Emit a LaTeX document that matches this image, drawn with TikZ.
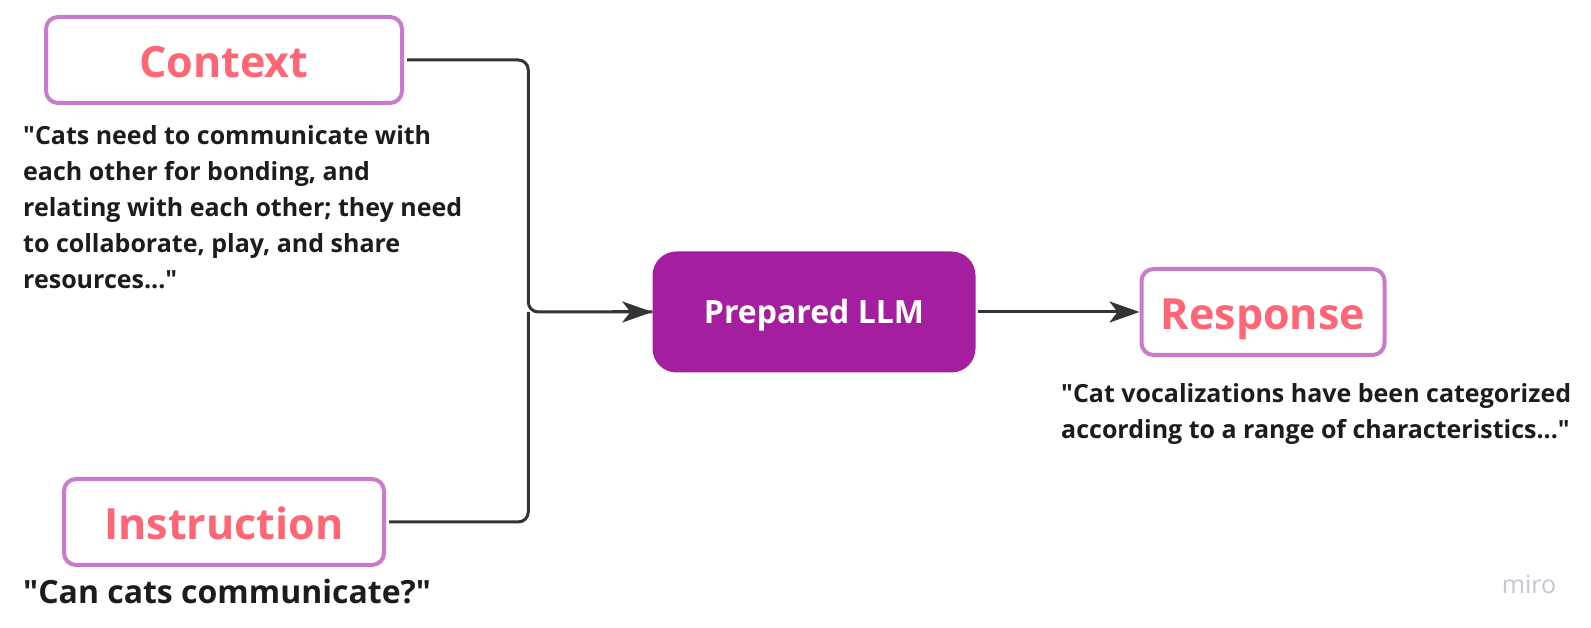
\documentclass[tikz,border=0pt]{standalone}
\usepackage{fontspec}
\newfontfamily\osans{Open Sans}
\usepackage{tikz}
\usetikzlibrary{arrows.meta, positioning}
\definecolor{edge}{RGB}{200, 122, 204}
\definecolor{title}{RGB}{255, 102, 117}
\definecolor{llmfill}{RGB}{166, 30, 160}
\definecolor{ink}{RGB}{51, 51, 51}
\definecolor{quoteink}{RGB}{28, 28, 28}
\definecolor{mark}{RGB}{196, 198, 214}

\begin{document}
\begin{tikzpicture}[x=1pt, y=1pt,
  part/.style={draw=edge, line width=4pt, rounded corners=12pt, fill=white,
    minimum height=86pt, text=title, text height=36pt, text depth=0pt,
    font=\osans\fontsize{43}{50}\selectfont\bfseries},
  llmbox/.style={fill=llmfill, rounded corners=24pt, minimum width=323pt,
    minimum height=121pt, text=white, text height=23pt, text depth=0pt,
    font=\osans\fontsize{32}{36}\selectfont\bfseries},
  quote/.style={inner sep=0pt, align=left, text=quoteink,
    font=\osans\fontsize{25}{36}\selectfont\bfseries},
  link/.style={ink, line width=3pt, rounded corners=10pt},
  arrow/.style={-{Stealth[length=30pt, width=21pt, inset=8pt]}, ink, line width=3pt}
]
\useasboundingbox (0,0) rectangle (1591,628);
\node[part, minimum width=356pt] (ctx) at (224,568) {Context};
\node[part, minimum width=320pt] (ins) at (224,106) {Instruction};
\node[llmbox] (llm) at (814,316) {Prepared LLM};
\node[part, minimum width=243pt] (resp) at (1263,316) {Response};
\node[quote, anchor=north west] (ctxq) at (23,503)
  {"Cats need to communicate with\\each other for bonding, and\\relating with each other; they need\\to collaborate, play, and share\\resources..."};
\node[quote, anchor=west, font=\osans\fontsize{32}{38}\selectfont\bfseries] (insq) at (23,36)
  {"Can cats communicate?"};
\node[quote, anchor=north west] (respq) at (1061,245)
  {"Cat vocalizations have been categorized\\according to a range of characteristics..."};
\node[text=mark, font=\osans\fontsize{25}{28}\selectfont] (miro) at (1529,44) {miro};
% inputs merge into the model
\draw[link, shorten <=3pt] (ctx.east) -| ([xshift=-124pt]llm.west) -- (llm.west);
\draw[link, shorten <=3pt] (ins.east) -| ([xshift=-124pt]llm.west);
\draw[arrow] ([xshift=-40pt]llm.west) -- (llm.west);
\draw[arrow, shorten <=2pt] (llm) -- (resp);
\end{tikzpicture}
\end{document}
